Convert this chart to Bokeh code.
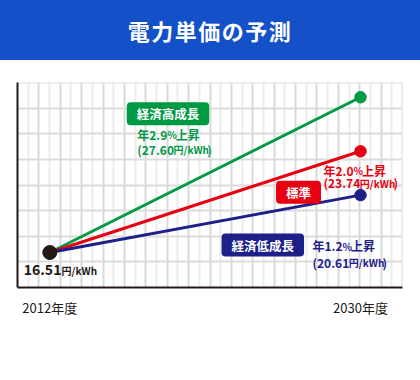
import numpy as np
from bokeh.plotting import figure
from bokeh.models import Div, Label, FixedTicker, Range1d
from bokeh.layouts import column
from bokeh.embed import file_html
from bokeh.resources import INLINE

# ---- data ----
title = "電力単価の予測"
years = [2012, 2030]
year_labels = ["2012年度", "2030年度"]
base_price = 16.51
scenario_names = ["経済高成長", "標準", "経済低成長"]
scenario_prices = [27.60, 23.74, 20.61]
scenario_growth = [2.9, 2.0, 1.2]
scenario_colors = ["#009944", "#e60012", "#1d2088"]
unit = "円/kWh"

FONT = "Noto Sans CJK JP"
DARK = "#231815"

# ---- layout geometry ----
W, H = 420, 320
BL, BR, BT, BB = 17, 18, 22, 93
FW, FH = W - BL - BR, H - BT - BB
TOP = 60  # page y of the figure's top edge

x0, x1 = 2010.129, 2032.433
y0, y1 = 14.01, 28.653


def dx(px):
    return x0 + (px - BL) * (x1 - x0) / FW


def dy(py):
    return y1 - (py - TOP - BT) * (y1 - y0) / FH


p = figure(width=W, height=H, x_range=Range1d(x0, x1), y_range=Range1d(y0, y1),
           output_backend="svg", toolbar_location=None,
           min_border_left=BL, min_border_right=BR, min_border_top=BT, min_border_bottom=BB)
p.outline_line_color = None
p.background_fill_color = "white"
p.border_fill_color = "white"

# grid
xt = np.linspace(x0, x1, 37)
xt[-1] -= 1e-6
p.xgrid.ticker = FixedTicker(ticks=list(xt[::2]), minor_ticks=list(xt[1::2]))
p.xgrid.grid_line_color = "#d9d9d9"
p.xgrid.grid_line_width = 2
p.xgrid.minor_grid_line_color = "#ececec"
p.xgrid.minor_grid_line_width = 2
yt = np.linspace(y0, y1, 9)
yt[-1] -= 1e-6
p.ygrid.ticker = FixedTicker(ticks=list(yt))
p.ygrid.grid_line_color = "#dcdcdc"
p.ygrid.grid_line_width = 2

# axes
p.xaxis.ticker = FixedTicker(ticks=years)
p.xaxis.major_label_overrides = {y: l for y, l in zip(years, year_labels)}
p.xaxis.major_tick_line_color = None
p.xaxis.minor_tick_line_color = None
p.xaxis.axis_line_color = DARK
p.xaxis.axis_line_width = 2
p.xaxis.major_label_text_font = FONT
p.xaxis.major_label_text_font_size = "13px"
p.xaxis.major_label_text_color = DARK
p.xaxis.major_label_standoff = 4

p.yaxis.ticker = FixedTicker(ticks=[])
p.yaxis.major_label_text_font_size = "0px"
p.yaxis.major_tick_line_color = None
p.yaxis.minor_tick_line_color = None
p.yaxis.axis_line_color = DARK
p.yaxis.axis_line_width = 2

# lines and points
for price, c in zip(scenario_prices, scenario_colors):
    p.line(x=years, y=[base_price, price], line_color=c, line_width=3)
p.scatter(x=[years[1]] * len(scenario_prices), y=scenario_prices, size=11.5,
          fill_color=scenario_colors, line_color=scenario_colors)
p.scatter(x=[years[0]], y=[base_price], size=14, fill_color=DARK, line_color=DARK)


# ---- text helpers ----
WID = {".": 0.3, "%": 0.86, "(": 0.33, ")": 0.33, "/": 0.36, "k": 0.54, "W": 0.88, "h": 0.58}


def width(s, size):
    t = 0.0
    for ch in s:
        if ord(ch) > 0x2E80:
            t += 1.0
        elif ch.isdigit():
            t += 0.6
        else:
            t += WID.get(ch, 0.55)
    return t * size


def run(px, py, parts, color):
    """py = visual middle of the line for the largest size; smaller parts share the baseline."""
    big = max(sz for _, sz in parts)
    x = px
    for s, size in parts:
        ymid = py + 0.36 * (big - size)
        p.add_layout(Label(x=dx(x), y=dy(ymid), text=s, text_font=FONT,
                           text_font_size=f"{size}px", text_font_style="bold",
                           text_color=color, text_align="left",
                           text_baseline="middle"))
        x += width(s, size)


def box(cx, cy, s, color):
    p.add_layout(Label(x=dx(cx), y=dy(cy), text=s, text_font=FONT,
                       text_font_size="12.5px", text_font_style="bold",
                       text_color="white", text_align="center", text_baseline="middle",
                       background_fill_color=color, border_radius=4, padding=(10, 2)))


def rate_lines(px, py1, py2, g, price, color):
    run(px, py1, [(f"年{g:.1f}", 12), ("%", 10), ("上昇", 12)], color)
    run(px, py2, [(f"({price:.2f}", 12), (unit, 10), (")", 12)], color)


# green / high growth
box(167.5, 113.3, scenario_names[0], scenario_colors[0])
rate_lines(136.7, 133.5, 148.5, scenario_growth[0], scenario_prices[0], scenario_colors[0])
# red / standard
box(298, 191.7, scenario_names[1], scenario_colors[1])
rate_lines(323, 169.5, 182, scenario_growth[1], scenario_prices[1], scenario_colors[1])
# navy / low growth
box(262.3, 244.5, scenario_names[2], scenario_colors[2])
rate_lines(312, 245, 261.7, scenario_growth[2], scenario_prices[2], scenario_colors[2])

# start value
run(23.3, 269, [(f"{base_price:.2f}", 14), (unit, 10)], DARK)

div = Div(text=title, width=W, height=TOP, margin=(0, 0, 0, 0),
          styles={"background-color": "#1450c8", "color": "white", "font-size": "22px",
                  "font-weight": "bold", "font-family": f"'{FONT}'", "text-align": "center",
                  "line-height": f"{TOP}px", "letter-spacing": "1.5px"})

layout = column(div, p, spacing=0)

open("out.html", "w").write(file_html(layout, INLINE))
